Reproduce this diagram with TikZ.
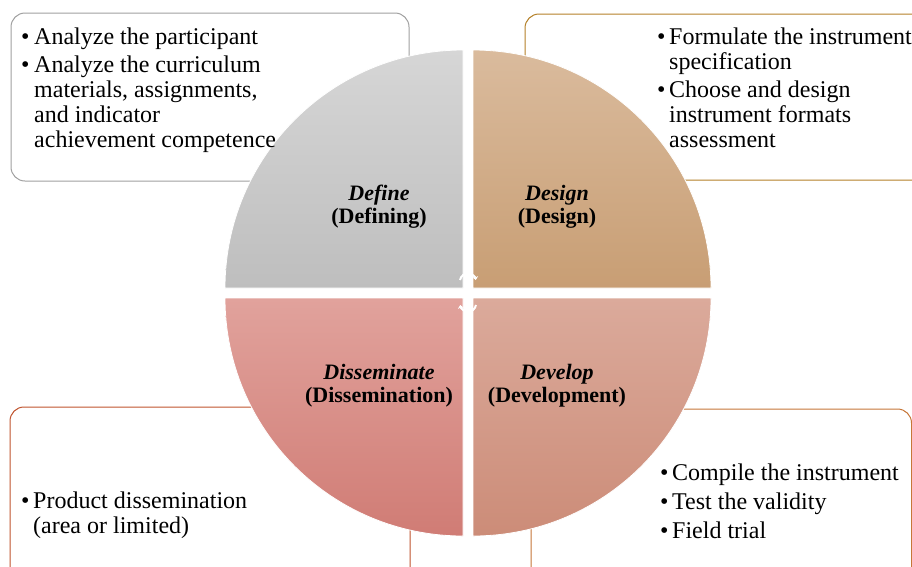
\documentclass[tikz,border=0pt]{standalone}
\usepackage{fontspec}
\setmainfont{Liberation Serif}
\usetikzlibrary{arrows.meta}
\definecolor{tlA}{RGB}{214,214,214}\definecolor{tlB}{RGB}{190,190,190}
\definecolor{trA}{RGB}{218,187,157}\definecolor{trB}{RGB}{200,158,116}
\definecolor{blA}{RGB}{225,162,156}\definecolor{blB}{RGB}{208,124,117}
\definecolor{brA}{RGB}{219,170,155}\definecolor{brB}{RGB}{204,140,120}
\definecolor{bxTL}{RGB}{160,160,160}\definecolor{bxTR}{RGB}{180,128,40}
\definecolor{bxBL}{RGB}{192,84,46}\definecolor{bxBR}{RGB}{198,118,56}
\tikzset{
  infobox/.style={line width=1pt, rounded corners=14pt, fill=white},
  quad/.style={draw=white, line width=0.8pt},
  bodytext/.style={anchor=base west, inner sep=0pt, font=\fontsize{24}{25}\selectfont},
  bul/.style={anchor=base west, inner sep=0pt, font=\fontsize{24}{25}\selectfont},
  phase/.style={align=center, inner sep=0pt, font=\fontsize{22}{23}\selectfont\bfseries},
  cyc/.style={white, line width=2pt, -{Stealth[length=3.5pt,width=6pt]}}
}
\begin{document}
\begin{tikzpicture}[x=1pt,y=-1pt]
\useasboundingbox (0,0) rectangle (912,566);
% boxes
\draw[infobox, draw=bxTL] (11,13) rectangle (409,181);
\draw[infobox, draw=bxTR] (525,14) rectangle (940,180);
\draw[infobox, draw=bxBL] (10,407) rectangle (410,600);
\draw[infobox, draw=bxBR] (531,409) rectangle (911.5,600);
% quadrants
\path[quad, top color=tlA, bottom color=tlB] (463,288) -- (225,288) arc[start angle=180, end angle=270, radius=238] -- cycle;
\path[quad, top color=trA, bottom color=trB] (473,288) -- (473,50) arc[start angle=270, end angle=360, radius=238] -- cycle;
\path[quad, top color=brA, bottom color=brB] (473,298) -- (711,298) arc[start angle=0, end angle=90, radius=238] -- cycle;
\path[quad, top color=blA, bottom color=blB] (463,298) -- (463,536) arc[start angle=90, end angle=180, radius=238] -- cycle;
% cycle arrows
\coordinate (cu) at (460,280);
\coordinate (cd) at (476,305);
\draw[cyc] (cu) arc[start angle=190, end angle=350, radius=8];
\draw[cyc] (cd) arc[start angle=10, end angle=170, radius=8];
% phase labels
\node[phase] (def) at (379,207) {\textit{Define}\\(Defining)};
\node[phase] (des) at (557,207) {\textit{Design}\\(Design)};
\node[phase] (dis) at (379,386) {\textit{Disseminate}\\(Dissemination)};
\node[phase] (dev) at (557,386) {\textit{Develop}\\(Development)};
% top-left text
\node[bul] (b1) at (21,44.5) {\textbullet};
\node[bodytext] (t1) at (34,44.5) {Analyze the participant};
\node[bul] (b2) at (21,72.5) {\textbullet};
\node[bodytext] (t2) at (34,72.5) {Analyze the curriculum};
\node[bodytext] (t3) at (34,97.5) {materials, assignments,};
\node[bodytext] (t4) at (34,122.5) {and indicator};
\node[bodytext] (t5) at (34,147.5) {achievement competence};
% top-right text
\node[bul] (b3) at (657,44.5) {\textbullet};
\node[bodytext] (r1) at (669,44.5) {Formulate the instrument};
\node[bodytext] (r2) at (669,69.5) {specification};
\node[bul] (b4) at (657,97.5) {\textbullet};
\node[bodytext] (r3) at (669,97.5) {Choose and design};
\node[bodytext] (r4) at (669,122.5) {instrument formats};
\node[bodytext] (r5) at (669,147.5) {assessment};
% bottom-left text
\node[bul] (b5) at (21,508) {\textbullet};
\node[bodytext] (l1) at (33,508) {Product dissemination};
\node[bodytext] (l2) at (33,533) {(area or limited)};
% bottom-right text
\node[bul] (b6) at (660,480) {\textbullet};
\node[bodytext] (d1) at (672,480) {Compile the instrument};
\node[bul] (b7) at (660,509) {\textbullet};
\node[bodytext] (d2) at (672,509) {Test the validity};
\node[bul] (b8) at (660,538) {\textbullet};
\node[bodytext] (d3) at (672,538) {Field trial};
\end{tikzpicture}
\end{document}
